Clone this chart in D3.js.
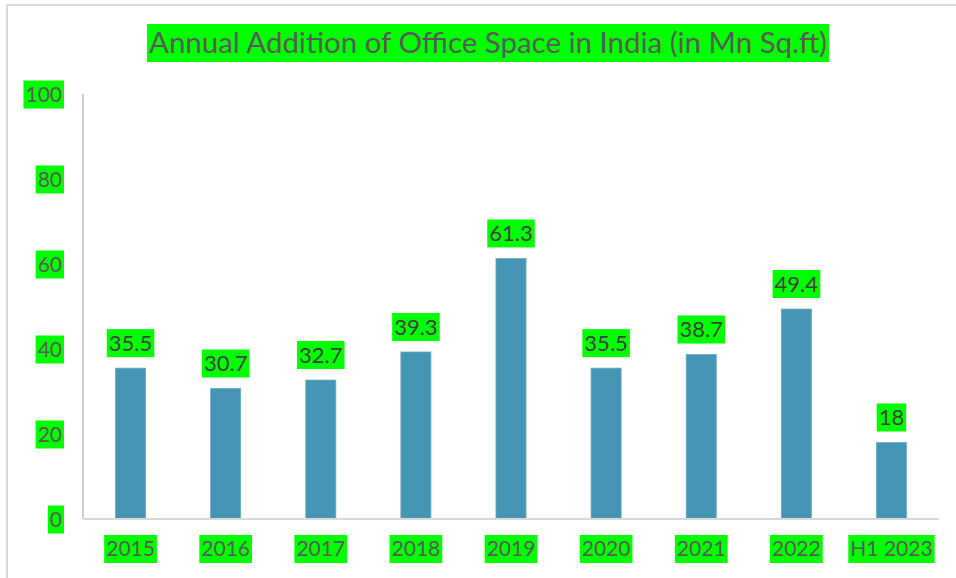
<!DOCTYPE html>
<html><head><meta charset="utf-8">
<script src="https://cdn.jsdelivr.net/npm/d3@7"></script>
<style>body{margin:0;background:#fff}svg{display:block}</style>
</head><body>
<svg id="c" width="956" height="578"></svg>
<script>
const title = "Annual Addition of Office Space in India (in Mn Sq.ft)";
const categories = ["2015","2016","2017","2018","2019","2020","2021","2022","H1 2023"];
const values = [35.5,30.7,32.7,39.3,61.3,35.5,38.7,49.4,18];
const yTicks = [0,20,40,60,80,100];

const svg = d3.select("#c");
const FONT = "Lato, 'Noto Sans', sans-serif";
const GREEN = "#00ff00";

// frame
svg.append("path").attr("d","M7,580 V5 H960").attr("fill","none").attr("stroke","#d9d9d9").attr("stroke-width",2);

const x = d3.scaleBand().domain(categories).range([83,939]).paddingInner(0.684).paddingOuter(0.342);
const y = d3.scaleLinear().domain([0,100]).range([519,94]);

function boxed(g, txt, cx, cy, anchor, size, color, h){
  const grp = g.append("g");
  const rect = grp.append("rect").attr("fill",GREEN);
  const t = grp.append("text").text(txt).attr("x",cx).attr("y",cy).attr("dy","0.35em")
    .attr("text-anchor",anchor).attr("font-family",FONT).attr("font-size",size).attr("fill",color);
  const bb = t.node().getBBox();
  rect.attr("x",bb.x-2).attr("width",bb.width+4).attr("y",cy-h/2).attr("height",h);
  return t;
}

// title
const tt = boxed(svg, title, 488, 43, "middle", 28, "#595959", 38);
{
  const w = tt.node().getComputedTextLength();
  const target = 678;
  const fs = 28*target/w;
  tt.attr("font-size", fs);
  const bb = tt.node().getBBox();
  d3.select(tt.node().parentNode).select("rect").attr("x",bb.x-2).attr("width",bb.width+4);
}

// y axis
const yAxis = d3.axisLeft(y).tickValues(yTicks).tickSize(0).tickPadding(0);
const ga = svg.append("g").attr("transform","translate(83,0)").call(yAxis);
ga.select(".domain").remove();
ga.selectAll(".tick text").remove();
ga.selectAll(".tick").each(function(d){
  boxed(d3.select(this), String(d), -21, 0, "end", 21, "#595959", 28);
});
svg.append("line").attr("x1",83).attr("x2",83).attr("y1",94).attr("y2",519).attr("stroke","#d0d0d0").attr("stroke-width",2);

// bars
svg.append("g").selectAll("rect").data(values).join("rect")
  .attr("x",(d,i)=>x(categories[i])).attr("width",x.bandwidth())
  .attr("y",d=>y(d)).attr("height",d=>y(0)-y(d))
  .attr("fill","#4596b5").attr("stroke","#6aaac6").attr("stroke-width",0.8);

// x axis
const xAxis = d3.axisBottom(x).tickSize(0).tickPadding(0);
const gx = svg.append("g").attr("transform","translate(0,519)").call(xAxis);
gx.select(".domain").remove();
gx.selectAll(".tick text").remove();
gx.selectAll(".tick").each(function(d){
  boxed(d3.select(this), d, 0, 30, "middle", 21, "#595959", 28);
});
svg.append("line").attr("x1",83).attr("x2",939).attr("y1",519).attr("y2",519).attr("stroke","#d9d9d9").attr("stroke-width",2);

// value labels
values.forEach((v,i)=>{
  boxed(svg, String(v), x(categories[i])+x.bandwidth()/2, y(v)-25, "middle", 22, "#404040", 28);
});
</script>
</body></html>
